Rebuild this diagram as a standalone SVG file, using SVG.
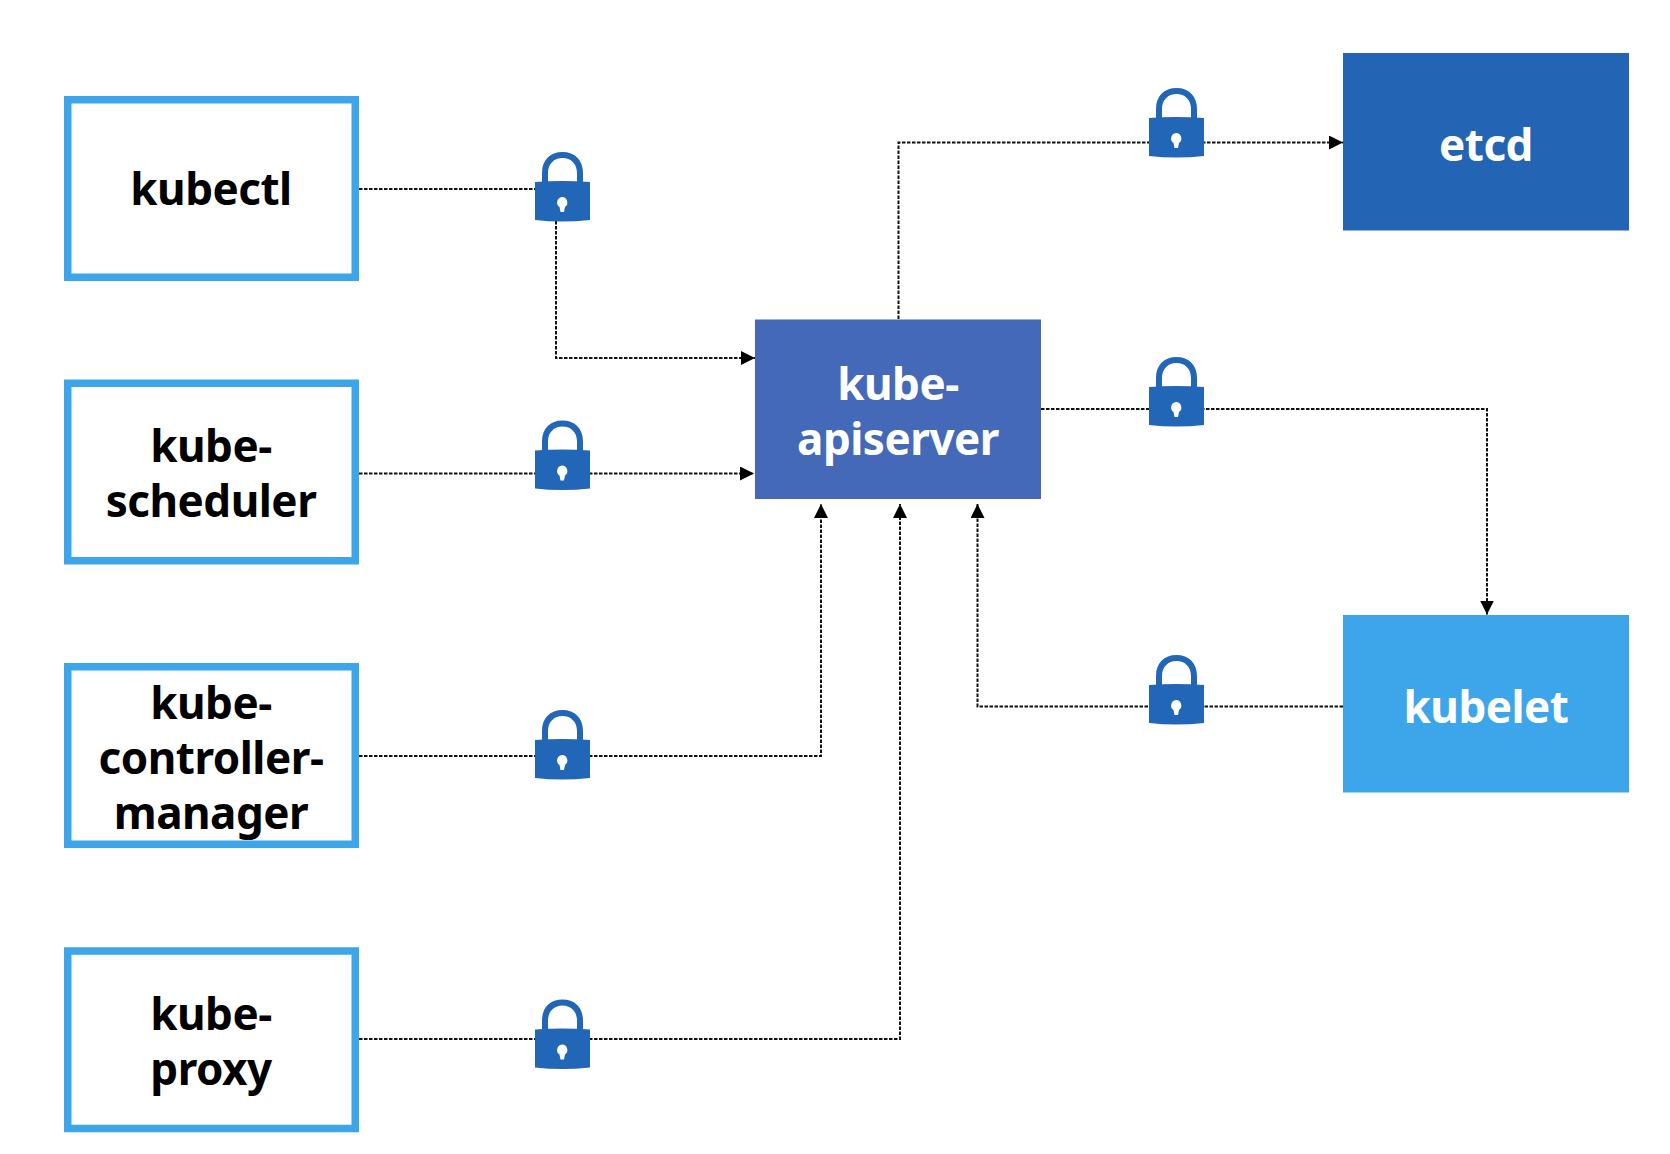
<svg xmlns="http://www.w3.org/2000/svg" width="1670" height="1154" viewBox="0 0 1670 1154">
<style>
.box{fill:#fff;stroke:#3da5ea;stroke-width:7.5}
.t{font-family:"Noto Sans","Open Sans","Liberation Sans",sans-serif;font-weight:700;font-size:44px;letter-spacing:-.5px;text-anchor:middle}
.k{fill:#000}.w{fill:#fff}
.c{fill:none;stroke:#111;stroke-width:2;stroke-dasharray:3.500 1.500}
.e{marker-end:url(#arrow)}
</style>
<defs>
<marker id="arrow" markerUnits="userSpaceOnUse" markerWidth="15" markerHeight="14" refX="14" refY="7" orient="auto"><path d="M0 0L14 7L0 14Z" fill="#000"/></marker>
<symbol id="lock" width="55" height="70" viewBox="0 0 55 70" overflow="visible">
<path d="M7 32V21C7 8 15 0 27.500 0S48 8 48 21V32H42V21C42 12 36 6 27.500 6S13 12 13 21V32Z" fill="#2266b8"/>
<path d="M0 30Q27 28 55 30V68Q27 71 0 68Z" fill="#2266b8"/>
<path d="M27 45a5.500 5.500 0 0 1 3 10L29 60H25.500L24.500 55A5.500 5.500 0 0 1 27 45Z" fill="#fff"/>
</symbol>
</defs>
<rect width="1670" height="1154" fill="#fff"/>
<g id="connectors">
<path class="c" d="M359 189H535"/>
<path class="c e" d="M556 221V358H755"/>
<path class="c e" d="M359 473.500H754"/>
<path class="c e" d="M359 756H821V504"/>
<path class="c e" d="M359 1039H900V504"/>
<path class="c e" d="M1343 706.500H977.500V504"/>
<path class="c e" d="M898.500 319V142.500H1343"/>
<path class="c e" d="M1041 409H1487V614.500"/>
</g>
<g id="kubectl"><rect class="box" x="67.750" y="99.750" width="287.500" height="177.500"/><text class="t k" x="211" y="205">kubectl</text></g>
<g id="kube-scheduler"><rect class="box" x="67.750" y="383.250" width="287.500" height="177.500"/><text class="t k" x="211" y="462">kube-</text><text class="t k" x="211" y="517">scheduler</text></g>
<g id="kube-controller-manager"><rect class="box" x="67.750" y="666.750" width="287.500" height="177.500"/><text class="t k" x="211" y="719">kube-</text><text class="t k" x="211" y="774">controller-</text><text class="t k" x="211" y="829">manager</text></g>
<g id="kube-proxy"><rect class="box" x="67.750" y="951" width="287.500" height="177.500"/><text class="t k" x="211" y="1030">kube-</text><text class="t k" x="211" y="1085">proxy</text></g>
<g id="kube-apiserver"><rect x="755" y="319.500" width="286" height="179.500" fill="#4469b8"/><text class="t w" x="898" y="400">kube-</text><text class="t w" x="898" y="455">apiserver</text></g>
<g id="etcd"><rect x="1343" y="53" width="286" height="177.500" fill="#2364b4"/><text class="t w" x="1486" y="161">etcd</text></g>
<g id="kubelet"><rect x="1343" y="615" width="286" height="177.500" fill="#3da6eb"/><text class="t w" x="1486" y="723">kubelet</text></g>
<g id="lock-kubectl"><use href="#lock" x="535" y="152"/></g>
<g id="lock-scheduler"><use href="#lock" x="535" y="420.500"/></g>
<g id="lock-controller"><use href="#lock" x="535" y="710"/></g>
<g id="lock-proxy"><use href="#lock" x="535" y="999.500"/></g>
<g id="lock-etcd"><use href="#lock" x="1149" y="88"/></g>
<g id="lock-apiserver"><use href="#lock" x="1149" y="357"/></g>
<g id="lock-kubelet"><use href="#lock" x="1149" y="655"/></g>
</svg>
